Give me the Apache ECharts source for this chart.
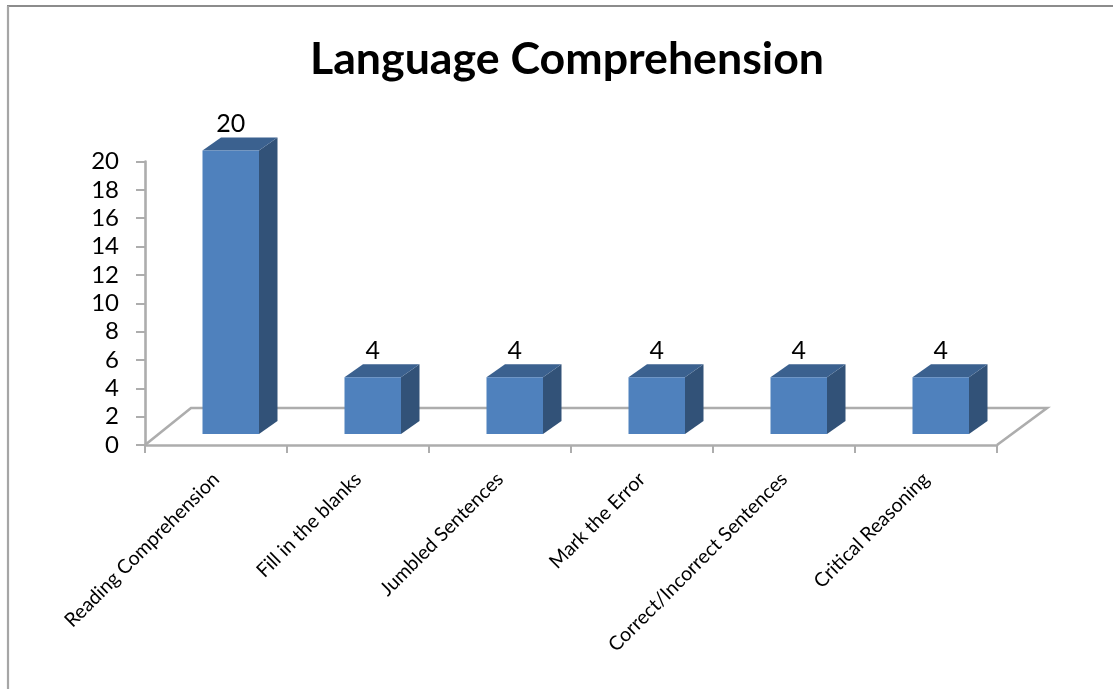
<!DOCTYPE html>
<html><head><meta charset="utf-8">
<style>html,body{margin:0;padding:0;background:#fff}#c{width:1113px;height:689px}</style>
<script src="https://cdn.jsdelivr.net/npm/echarts@6/dist/echarts.min.js"></script>
</head><body><div id="c"></div>
<script>
const titleText = 'Language Comprehension';
const categories = ['Reading Comprehension','Fill in the blanks','Jumbled Sentences','Mark the Error','Correct/Incorrect Sentences','Critical Reasoning'];
const values = [20,4,4,4,4,4];
const yTicks = {min:0,max:20,interval:2};
const FONT = 'Lato, "Open Sans", sans-serif';
const chart = echarts.init(document.getElementById('c'),null,{renderer:'canvas'});
const GREY='#adadad';
function renderBar(params, api){
  const i=api.value(0), v=api.value(1);
  const top=api.coord([i,v]), base=api.coord([i,0]);
  const dx=15, dy=-11, w=56.5, bdx=18.5, bdy=-13;
  const l=top[0]+dx-w/2-0.25, r=l+w, t=top[1]+dy, b=base[1]+dy;
  return {type:'group',children:[
    {type:'polygon',shape:{points:[[r,t],[r+bdx,t+bdy],[r+bdx,b+bdy],[r,b]]},style:{fill:'#325278'}},
    {type:'polygon',shape:{points:[[l,t],[l+bdx,t+bdy],[r+bdx,t+bdy],[r,t]]},style:{fill:'#3b618f'}},
    {type:'rect',shape:{x:l,y:t,width:w,height:b-t},style:{fill:'#4f81bd'}},
    {type:'text',style:{text:String(v),x:l+w/2,y:t+bdy-1,align:'center',verticalAlign:'bottom',fontFamily:FONT,fontSize:25,fill:'#000'}}
  ]};
}
function renderFloor(params, api){
  const c0=api.coord([0,0]), c5=api.coord([categories.length-1,0]), band=api.size([1,0])[0];
  const ax=c0[0]-band/2, bx=c5[0]+band/2, y=c0[1], back=y-37;
  return {type:'polyline',silent:true,shape:{points:[[ax,y],[ax+46,back],[bx+50,back],[bx,y]]},style:{fill:null,stroke:GREY,lineWidth:2.6}};
}
chart.setOption({
  animation:false,
  backgroundColor:'#fff',
  title:{text:titleText,left:562,top:32,textAlign:'center',textStyle:{fontFamily:FONT,fontSize:44.7,fontWeight:'bold',color:'#000'}},
  grid:{left:145,top:161.5,width:852,height:283.5,containLabel:false},
  xAxis:{type:'category',data:categories,
    axisLine:{lineStyle:{color:GREY,width:2.6}},
    axisTick:{show:true,alignWithLabel:false,length:8,lineStyle:{color:GREY,width:2}},
    axisLabel:{rotate:45,interval:0,margin:31,fontFamily:FONT,fontSize:19.6,color:'#000'},
    splitLine:{show:false}},
  yAxis:{type:'value',min:yTicks.min,max:yTicks.max,interval:yTicks.interval,
    axisLine:{show:true,lineStyle:{color:GREY,width:2.6}},
    axisTick:{show:true,length:9,lineStyle:{color:GREY,width:2}},
    axisLabel:{margin:26,padding:[7,0,0,0],fontFamily:FONT,fontSize:24,color:'#000'},
    splitLine:{show:false}},
  graphic:[
    {type:'line',silent:true,shape:{x1:7,y1:6,x2:1113,y2:6},style:{stroke:'#8c8c8c',lineWidth:2.2}},
    {type:'line',silent:true,shape:{x1:8,y1:6,x2:8,y2:689},style:{stroke:'#a6a6a6',lineWidth:2.2}}
  ],
  series:[
    {type:'custom',renderItem:renderFloor,data:[[0,0]],z:1,encode:{x:0,y:1},silent:true},
    {type:'custom',renderItem:renderBar,data:values.map((v,i)=>[i,v]),z:2,encode:{x:0,y:1}}
  ]
});
</script></body></html>
